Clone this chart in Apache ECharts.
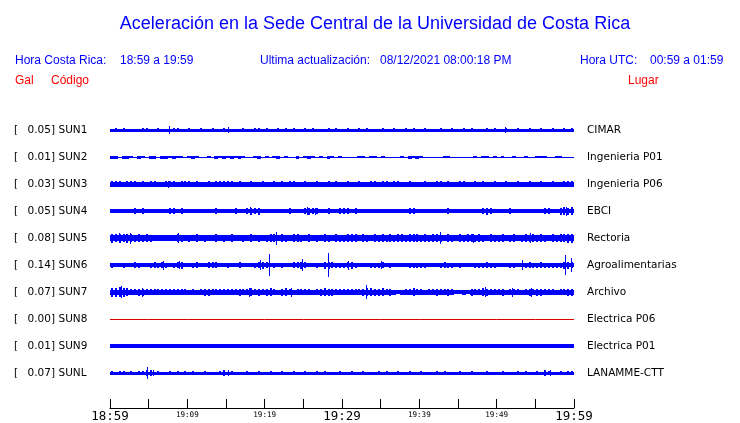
<!DOCTYPE html>
<html><head><meta charset="utf-8">
<script src="https://cdn.jsdelivr.net/npm/echarts@6/dist/echarts.min.js"></script>
<style>html,body{margin:0;padding:0;background:#fff}#c{width:740px;height:423px}</style>
</head><body><div id="c"></div>
<script>
// ---- data ----
const codes  = ['SUN1','SUN2','SUN3','SUN4','SUN5','SUN6','SUN7','SUN8','SUN9','SUNL'];
const places = ['CIMAR','Ingenieria P01','Ingenieria P06','EBCI','Rectoria','Agroalimentarias','Archivo','Electrica P06','Electrica P01','LANAMME-CTT'];
const peakGal = ['0.05','0.01','0.03','0.05','0.08','0.14','0.07','0.00','0.01','0.07'];
const tickLabels = ['18:59','19:09','19:19','19:29','19:39','19:49','19:59']; // every 10 min
const spanMinutes = 60;
const sampleMinutes = 0.5; // each envelope value covers 30 s

// steady background half-amplitude of each trace (relative units)
const coreLevels = [1.5, 0.5, 2.5, 1.7, 3.3, 1.7, 2.5, 0, 1.7, 1.5];

// envelope (half-amplitude) of each trace, one value per 30 s, relative units
const sun1 = [
1.5,2.2,1.5,2.2,1.5,1.5,1.5,1.5,2.2,2.2, 1.5,1.5,2.2,1.5,1.5,1.5,2.2,2.2,1.5,1.5,
2.2,1.5,1.5,2.2,1.5,1.5,2.2,1.5,1.5,2.2, 1.5,1.5,1.5,1.5,2.2,1.5,1.5,2.2,2.2,1.5,
2.2,1.5,1.5,2.2,1.5,2.2,1.5,2.2,1.5,1.5, 2.2,1.5,2.2,1.5,1.5,1.5,2.2,1.5,2.2,1.5,
1.5,2.2,1.5,1.5,2.2,1.5,2.2,1.5,1.5,1.5, 2.2,1.5,1.5,2.2,1.5,1.5,2.2,1.5,2.2,1.5,
1.5,2.2,1.5,1.5,1.5,2.2,1.5,1.5,2.2,1.5, 1.5,2.2,1.5,2.2,1.5,1.5,1.5,2.2,1.5,2.2,
1.5,1.5,2.2,1.5,1.5,2.2,1.5,1.5,2.2,1.5, 1.5,2.2,1.5,1.5,2.2,1.5,1.5,2.2,1.5,2.2];
const sun2 = [
1.5,1.5,0.5,1.5,1.5,1.0,0.5,1.5,1.0,0.5, 1.5,1.5,0.5,1.5,1.5,1.0,1.5,1.0,1.0,0.5,
1.0,1.5,1.0,0.5,0.5,1.0,0.5,1.5,1.0,1.5, 1.0,1.5,1.0,1.5,1.0,0.5,0.5,1.0,1.5,0.5,
1.0,0.5,1.0,1.5,0.5,1.0,0.5,0.5,1.5,0.5, 1.0,1.5,1.0,0.5,1.0,0.5,1.5,1.0,0.5,1.0,
0.5,0.5,0.5,0.5,1.0,1.0,0.5,1.0,1.0,0.5, 1.0,0.5,0.5,0.5,0.5,1.0,0.5,1.5,1.0,1.5,
1.0,0.5,0.5,0.5,0.5,0.5,1.0,1.0,0.5,0.5, 0.5,0.5,0.5,0.5,1.0,0.5,1.0,1.0,0.5,1.0,
0.5,1.0,0.5,0.5,1.0,0.5,0.5,1.0,0.5,0.5, 1.0,1.0,1.0,0.5,0.5,1.0,1.0,0.5,0.5,0.5];
const sun3 = [
3.2,3.2,3.2,2.5,3.2,3.2,3.2,2.5,3.2,2.5, 3.2,3.2,2.5,2.5,3.2,3.2,3.2,2.5,3.2,3.2,
3.2,2.5,3.2,2.5,2.5,3.2,2.5,3.2,3.2,3.2, 3.2,3.2,2.5,3.2,2.5,2.5,3.2,2.5,2.5,3.2,
2.5,2.5,3.2,2.5,3.2,2.5,3.2,3.2,2.5,2.5, 3.2,2.5,2.5,3.2,2.5,2.5,3.2,2.5,3.2,2.5,
2.5,3.2,2.5,2.5,3.2,2.5,2.5,3.2,3.2,2.5, 3.2,3.2,2.5,3.2,3.2,2.5,2.5,3.2,2.5,2.5,
2.5,3.2,2.5,2.5,3.2,3.2,2.5,3.2,2.5,2.5, 3.2,3.2,2.5,2.5,3.2,2.5,3.2,2.5,2.5,3.2,
2.5,2.5,3.2,2.5,2.5,3.2,2.5,2.5,3.2,2.5, 2.5,3.2,2.5,2.5,3.2,2.5,2.5,3.2,3.2,3.2];
const sun4 = [
1.7,1.7,2.2,1.7,1.7,1.7,3.0,1.7,3.0,1.7, 1.7,1.7,1.7,2.2,1.7,3.0,3.0,1.7,3.0,1.7,
1.7,1.7,2.2,1.7,1.7,1.7,1.7,3.0,1.7,1.7, 1.7,2.2,3.0,1.7,1.7,3.0,3.5,3.0,3.5,1.7,
1.7,1.7,2.2,1.7,1.7,1.7,3.0,1.7,1.7,1.7, 3.0,3.5,3.0,3.0,1.7,1.7,3.0,1.7,1.7,3.0,
3.0,3.0,1.7,3.0,1.7,1.7,1.7,2.2,1.7,1.7, 1.7,1.7,2.2,1.7,1.7,1.7,1.7,3.0,3.0,1.7,
1.7,1.7,1.7,2.2,1.7,1.7,1.7,3.0,1.7,1.7, 1.7,1.7,2.2,1.7,1.7,1.7,3.0,3.5,3.0,1.7,
1.7,1.7,1.7,2.8,1.7,1.7,2.2,1.7,1.7,1.7, 1.7,1.7,3.0,3.0,1.7,1.7,3.5,4.0,3.5,4.0];
const sun5 = [
4.5,4.2,4.5,4.0,4.5,4.0,3.5,4.0,3.5,4.0, 3.5,3.0,3.0,2.8,2.8,3.0,3.3,4.0,3.5,3.3,
3.5,3.3,3.8,3.3,3.5,3.3,3.3,3.8,3.3,3.5, 3.3,3.8,3.3,3.3,3.5,3.3,3.8,3.3,3.5,3.3,
3.5,4.0,3.8,3.3,4.0,3.5,3.3,3.8,4.0,3.5, 3.3,3.8,3.3,3.5,3.3,3.8,3.5,3.3,3.8,3.5,
3.5,4.0,3.8,4.0,3.3,3.8,3.5,3.3,3.8,3.5, 3.8,3.5,4.0,3.5,3.8,4.0,3.5,3.8,4.2,3.8,
3.5,4.0,3.5,3.8,4.0,3.5,3.3,3.8,3.5,3.3, 4.0,3.5,3.8,4.2,3.5,3.8,3.5,3.3,3.8,3.5,
3.5,3.8,3.3,3.5,3.8,3.3,3.5,3.8,3.5,4.0, 3.5,3.8,3.5,3.3,3.8,3.5,4.0,4.2,4.5,4.5];
const sun6 = [
2.5,1.7,1.7,2.5,1.7,1.7,3.0,2.5,1.7,1.7, 2.5,2.8,2.5,3.0,2.5,1.7,2.5,2.8,3.5,1.7,
1.7,2.5,2.8,1.7,1.7,3.0,3.0,2.8,1.7,1.7, 2.5,1.7,1.7,2.8,1.7,1.7,1.7,2.5,3.0,3.5,
3.0,1.7,2.5,1.7,2.5,1.7,1.7,3.0,3.0,3.5, 3.0,1.7,1.7,2.5,1.7,3.5,3.5,3.0,2.5,2.5,
2.5,3.0,3.5,2.5,1.7,1.7,1.7,2.5,2.5,2.5, 3.0,1.7,2.5,1.7,1.7,1.7,1.7,2.5,2.5,2.5,
2.5,2.5,1.7,1.7,1.7,2.5,3.0,2.5,2.5,1.7, 2.5,1.7,1.7,1.7,2.5,2.5,2.5,3.0,2.5,2.5,
1.7,1.7,1.7,2.5,2.5,1.7,1.7,2.5,3.0,2.5, 2.5,3.0,2.5,2.5,2.5,2.5,2.5,3.5,3.5,3.0];
const sun7 = [
4.5,4.5,5.0,4.5,4.0,3.0,2.8,3.5,3.5,2.8, 3.0,3.3,3.3,3.3,3.3,3.3,3.3,3.0,3.3,3.0,
2.5,2.8,2.5,3.0,3.5,3.5,3.0,3.3,3.0,2.8, 3.3,3.0,3.0,3.5,3.3,3.0,3.8,3.3,3.5,3.0,
3.5,3.8,3.0,2.5,3.5,3.8,3.3,2.5,3.0,3.0, 3.3,3.3,2.5,3.0,3.5,3.8,3.5,3.5,3.3,3.0,
3.3,3.0,3.0,2.8,3.0,3.5,4.0,3.8,3.5,3.5, 3.8,3.3,3.5,2.5,2.3,2.5,3.0,3.3,3.8,3.3,
3.0,2.5,3.3,3.0,3.5,3.3,3.0,3.5,3.3,2.3, 2.3,2.5,2.3,3.5,3.0,3.0,3.8,3.5,3.3,3.3,
3.0,3.5,2.5,3.0,3.3,3.3,2.5,3.0,3.5,3.3, 3.5,3.5,3.0,3.3,3.3,2.5,3.0,3.3,3.5,3.5];
const sun8 = [0,0,0,0,0,0,0,0,0,0,0,0,0]; // flat, read every 5 min
const sun9 = [
1.7,1.7,1.7,1.7,1.7,1.7,1.7,1.7,1.7,1.7, 1.7,1.7,1.7,1.7,1.7,1.7,1.7,1.7,1.7,1.7,
1.7,1.7,1.7,1.7,1.7,1.7,1.7,1.7,1.7,1.7, 1.7,1.7,1.7,1.7,1.7,1.7,1.7,1.7,1.7,1.7,
1.7,1.7,1.7,1.7,1.7,1.7,1.7,1.7,1.7,1.7, 1.7,1.7,1.7,1.7,1.7,1.7,1.7,1.7,1.7,1.7,
1.7,1.7,1.7,1.7,1.7,1.7,1.7,1.7,1.7,1.7, 1.7,1.7,1.7,1.7,1.7,1.7,1.7,1.7,1.7,1.7,
1.7,1.7,1.7,1.7,1.7,1.7,1.7,1.7,1.7,1.7, 1.7,1.7,1.7,1.7,1.7,1.7,1.7,1.7,1.7,1.7,
1.7,1.7,1.7,1.7,1.7,1.7,1.7,1.7,1.7,1.7, 1.7,1.7,1.7,1.7,1.7,1.7,1.7,1.7,1.7,1.7];
const sunL = [
2.3,1.5,2.3,2.3,1.5,2.3,1.5,2.3,2.3,2.8, 2.8,1.5,2.3,1.5,1.5,2.3,1.5,2.3,1.5,2.3,
1.5,2.3,1.5,1.5,2.3,1.5,1.5,1.5,2.3,2.8, 1.5,2.3,1.5,1.5,1.5,2.3,1.5,1.5,2.3,1.5,
1.5,2.3,1.5,1.5,2.3,1.5,1.5,2.3,1.5,1.5, 2.3,1.5,1.5,2.3,1.5,2.3,1.5,1.5,1.5,2.3,
1.5,1.5,2.3,1.5,1.5,2.3,1.5,1.5,1.5,2.3, 1.5,2.3,1.5,1.5,2.3,1.5,1.5,2.3,1.5,1.5,
2.3,1.5,1.5,1.5,2.3,1.5,2.3,1.5,1.5,1.5, 2.3,1.5,1.5,2.3,1.5,1.5,1.5,2.3,1.5,1.5,
1.5,2.3,1.5,1.5,1.5,2.3,1.5,2.3,1.5,1.5, 2.3,1.5,2.8,2.3,1.5,1.5,2.3,1.5,2.3,2.0];

// isolated spikes: [minute after 18:59, half-amplitude]
const spikes1 = [[7.67,4.3],[15.2,3.0],[51.1,2.8]];
const spikes2 = [];
const spikes3 = [[7.5,3.5]];
const spikes4 = [[18.1,3.8],[19.1,3.5],[25.5,3.8],[26.5,3.5],[59.0,4.5],[59.6,4.0]];
const spikes5 = [[1.2,5.0],[2.59,5.5],[8.79,5.0],[21.47,6.5],[42.67,6.0],[46.9,4.5],[54.3,5.0]];
const spikes6 = [[6.89,4.5],[8.9,3.8],[19.4,5.0],[20.6,11.0],[24.87,6.0],[28.19,12.0],[30.78,4.5],[35.04,3.8],[53.32,5.0],[58.87,10.0],[59.61,7.0]];
const spikes7 = [[1.38,6.0],[4.2,4.5],[17.97,4.5],[23.4,4.5],[33.1,6.7],[48.5,5.0],[52.0,4.5],[54.4,4.5]];
const spikes8 = [];
const spikes9 = [];
const spikesL = [[4.82,5.8],[5.56,3.0],[15.26,3.0],[56.9,3.0]];

const traces = [sun1,sun2,sun3,sun4,sun5,sun6,sun7,null,sun9,sunL];
const spikes = [spikes1,spikes2,spikes3,spikes4,spikes5,spikes6,spikes7,spikes8,spikes9,spikesL];

// ---- layout / style ----
const BLUE = '#0000ff', RED = '#ff0000', DARKRED = '#dd0000';
const PLOT_L = 110, PLOT_W = 464, ROW0 = 130, ROW_H = 27;
const HALF = 13.5;
const burstWidths = [2, 0, 2, 2, 2, 2, 2, 0, 2, 2]; // 0 = full sample width

function makeBand(core, tw){
  return function(params, api){
    const a = api.value(2);
    const c = Math.min(a, core);
    const p0 = api.coord([api.value(0), c]);
    const p1 = api.coord([api.value(1), -c]);
    const x0 = Math.round(p0[0]), x1 = Math.round(p1[0]);
    const children = [{type:'rect', shape:{x:x0, y:Math.round(p0[1]), width:x1-x0, height:Math.round(p1[1])-Math.round(p0[1])}, style:{fill:BLUE}}];
    if (a > core) {
      const q0 = api.coord([api.value(0), a]);
      const q1 = api.coord([api.value(1), -a]);
      const w = tw > 0 ? tw : (x1 - x0);
      const xm = tw > 0 ? Math.round((x0 + x1) / 2 - tw / 2) : x0;
      children.push({type:'rect', shape:{x:xm, y:Math.round(q0[1]), width:w, height:Math.round(q1[1])-Math.round(q0[1])}, style:{fill:BLUE}});
    }
    return {type:'group', children};
  };
}
function spikeItem(params, api){
  const a = api.value(1);
  const p0 = api.coord([api.value(0), a]);
  const p1 = api.coord([api.value(0), -a]);
  const x = Math.round(p0[0]) + 0.5;
  return {type:'line', shape:{x1:x, y1:Math.round(p0[1]), x2:x, y2:Math.round(p1[1])}, style:{stroke:BLUE, lineWidth:1}};
}

const grid = [], xAxis = [], yAxis = [], series = [], graphic = [];
codes.forEach((code, i) => {
  const cy = ROW0 + ROW_H * i;
  grid.push({left: PLOT_L, width: PLOT_W, top: cy - HALF, height: ROW_H});
  xAxis.push({type:'value', gridIndex:i, min:0, max:spanMinutes, show:false});
  if (traces[i]) {
    yAxis.push({type:'value', gridIndex:i, min:-HALF, max:HALF, show:false});
    series.push({type:'custom', xAxisIndex:i, yAxisIndex:i, silent:true, animation:false,
      renderItem: makeBand(coreLevels[i], burstWidths[i]), encode:{x:[0,1], y:2},
      data: traces[i].map((a, k) => [k*sampleMinutes, (k+1)*sampleMinutes, a])});
  } else {
    yAxis.push({type:'value', gridIndex:i, min:-13, max:14, show:false});
    series.push({type:'line', xAxisIndex:i, yAxisIndex:i, silent:true, animation:false, showSymbol:false,
      lineStyle:{color:DARKRED, width:1},
      data: sun8.map((v, k) => [k*5, v])});
  }
  if (spikes[i].length) {
    series.push({type:'custom', xAxisIndex:i, yAxisIndex:i, silent:true, animation:false,
      renderItem: spikeItem, encode:{x:0, y:1}, data: spikes[i]});
  }
  const lab = {font:'10.5px "DejaVu Sans"', fill:'#000', verticalAlign:'middle'};
  graphic.push({type:'text', x:14, y:cy+0.5, style:Object.assign({text:'[', align:'left'}, lab), silent:true});
  graphic.push({type:'text', x:55, y:cy+0.5, style:Object.assign({text:peakGal[i]+']', align:'right'}, lab), silent:true});
  graphic.push({type:'text', x:58.5, y:cy+0.5, style:Object.assign({text:code, align:'left'}, lab), silent:true});
  graphic.push({type:'text', x:587, y:cy+0.5, style:Object.assign({text:places[i], align:'left'}, lab), silent:true});
});

// time axis
const ai = codes.length;
grid.push({left: PLOT_L, width: PLOT_W, top: 400, height: 9});
xAxis.push({type:'value', gridIndex:ai, min:0, max:spanMinutes, interval:5,
  axisLine:{show:true, lineStyle:{color:'#000', width:1}},
  axisTick:{show:true, inside:true, length:9, lineStyle:{color:'#000', width:1}},
  splitLine:{show:false},
  axisLabel:{show:true, margin:2, showMinLabel:true, showMaxLabel:true, hideOverlap:false,
    formatter: v => {
      if (v % 10 !== 0) return '';
      const t = tickLabels[v/10];
      return (v % 30 === 0) ? '{big|' + t + '}' : '{small|' + t + '}';
    },
    rich:{
      big:{fontFamily:'DejaVu Sans Mono', fontSize:12.5, color:'#000', lineHeight:13},
      small:{fontFamily:'DejaVu Sans Mono', fontSize:7.6, color:'#000', lineHeight:9, padding:[1,0,0,0]}
    }}
});
yAxis.push({type:'value', gridIndex:ai, show:false, min:0, max:1});

// header texts
const hdr = (text, x, y, color, size, align) => ({type:'text', x, y, silent:true,
  style:{text, fill:color, font: size + 'px "Liberation Sans"', align: align || 'left', verticalAlign:'middle'}});
graphic.push(hdr('Aceleración en la Sede Central de la Universidad de Costa Rica', 375, 24, BLUE, 18, 'center'));
graphic.push(hdr('Hora Costa Rica:', 15, 61, BLUE, 12));
graphic.push(hdr('18:59 a 19:59', 120, 61, BLUE, 12));
graphic.push(hdr('Ultima actualización:', 260, 61, BLUE, 12));
graphic.push(hdr('08/12/2021 08:00:18 PM', 380, 61, BLUE, 12));
graphic.push(hdr('Hora UTC:', 580, 61, BLUE, 12));
graphic.push(hdr('00:59 a 01:59', 650, 61, BLUE, 12));
graphic.push(hdr('Gal', 15, 81, RED, 12));
graphic.push(hdr('Código', 51, 81, RED, 12));
graphic.push(hdr('Lugar', 628, 81, RED, 12));

const chart = echarts.init(document.getElementById('c'), null, {renderer:'canvas'});
chart.setOption({animation:false, backgroundColor:'#fff', grid, xAxis, yAxis, series, graphic});
</script></body></html>
